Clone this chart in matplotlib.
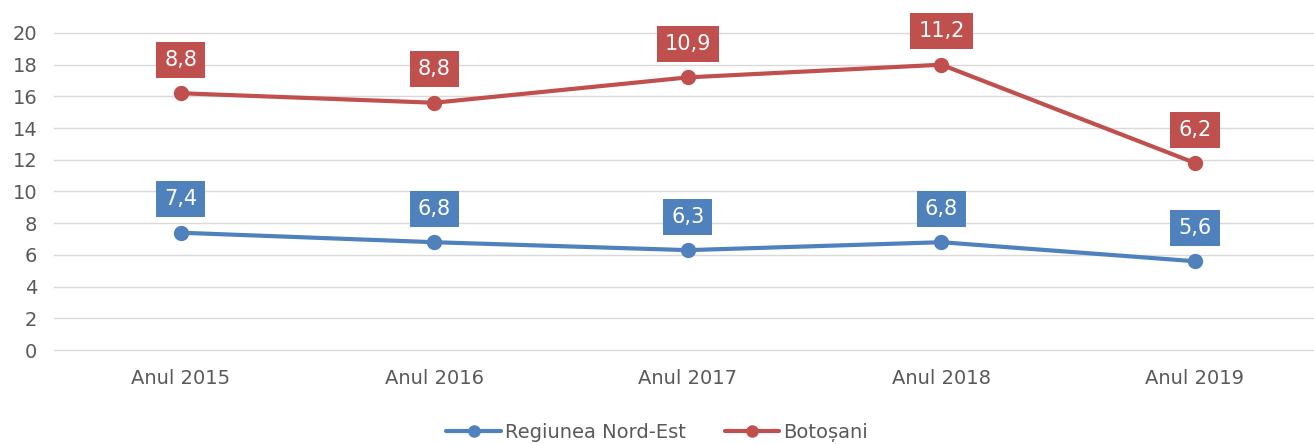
import matplotlib
matplotlib.use("Agg")
import matplotlib.pyplot as plt
import numpy as np

years = ["Anul 2015", "Anul 2016", "Anul 2017", "Anul 2018", "Anul 2019"]
nord_est = [7.4, 6.8, 6.3, 6.8, 5.6]
botosani = [8.8, 8.8, 10.9, 11.2, 6.2]

blue = "#4F81BD"
red = "#C0504D"
grey = "#595959"

plt.rcParams['font.family'] = ['DejaVu Sans']

fig = plt.figure(figsize=(13.14, 4.44), dpi=100)
ax = fig.add_axes([54/1314, 1 - 350/444, 1 - 54/1314, 317/444])

x = np.arange(len(years))
# stacked line chart: second series sits on top of the first
stacked = np.array(nord_est) + np.array(botosani)

ax.plot(x, nord_est, color=blue, lw=3, marker='o', ms=10, label="Regiunea Nord-Est",
        solid_capstyle='round', zorder=3)
ax.plot(x, stacked, color=red, lw=3, marker='o', ms=10, label="Botoșani",
        solid_capstyle='round', zorder=3)

def labels(ys, vals, color):
    for xi, yv, v in zip(x, ys, vals):
        ax.annotate(f"{v:.1f}".replace('.', ','), (xi, yv), xytext=(0, 24),
                    textcoords='offset points', ha='center', va='center',
                    color='white', fontsize=15,
                    bbox=dict(boxstyle='square,pad=0.38', fc=color, ec='none'), zorder=4)

labels(nord_est, nord_est, blue)
labels(stacked, botosani, red)

ax.set_xlim(-0.5, (1314 - 181) / 253.5)
ax.set_ylim(0, 20)
ax.set_yticks(range(0, 21, 2))
ax.set_xticks(x)
ax.set_xticklabels(years)
ax.tick_params(axis='both', length=0, labelsize=14, colors=grey)
ax.tick_params(axis='x', pad=14)
ax.tick_params(axis='y', pad=12)
ax.grid(axis='y', color='#D9D9D9', lw=1.0)
for gl in ax.get_ygridlines():
    gl.set_clip_on(False)
ax.set_axisbelow(True)
for s in ax.spines.values():
    s.set_visible(False)

fig.legend(loc='center', bbox_to_anchor=(0.5, 1 - 432/444), ncol=2, frameon=False,
           fontsize=14, labelcolor=grey, handlelength=2.8, handletextpad=0.2,
           columnspacing=2.0, markerscale=0.8)

fig.savefig("out.png", dpi=100)
